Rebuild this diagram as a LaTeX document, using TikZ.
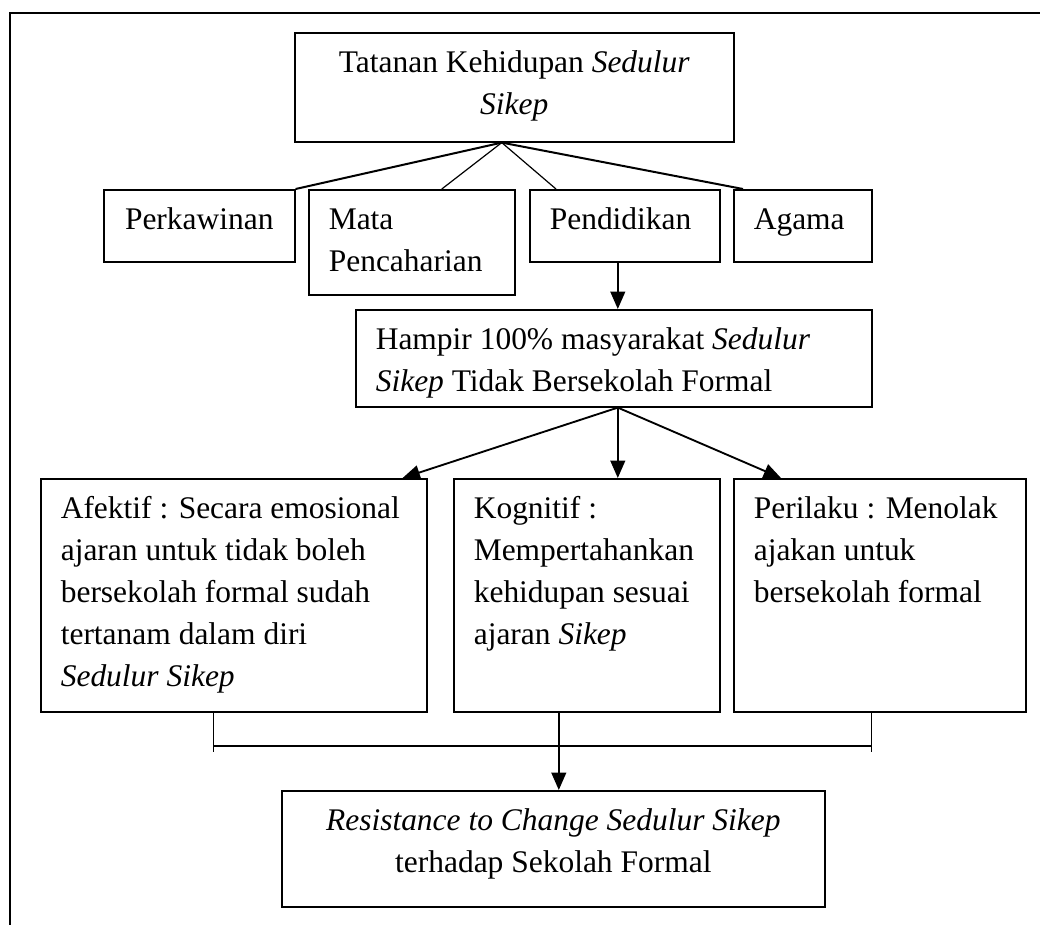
\documentclass[tikz,border=0pt]{standalone}
\usepackage{fontspec}
\setmainfont{Liberation Serif}
\usetikzlibrary{arrows.meta}

\newcommand{\isikotak}[3]{\parbox[c][#2][t]{#1}{\rule{0pt}{30pt}#3}}

\begin{document}
\begin{tikzpicture}[x=0.75pt,y=0.75pt,yscale=-1,xscale=1,
  kotak/.style={draw, line width=1.2pt, anchor=north west, inner xsep=15pt, inner ysep=0pt, font=\fontsize{23.6}{31.5}\selectfont},
  garis/.style={line width=1.5pt},
  garistipis/.style={line width=0.9pt},
  panah/.style={line width=1.4pt, -{Triangle[length=13pt,width=11pt]}}]
\useasboundingbox (0,0) rectangle (1040,925);

%Frame
\draw[line width=1.3pt] (10,925) -- (10,13) -- (1040,13);

%Shape: Rectangle
\node[kotak] (tatanan) at (294,32) {\isikotak{299.25pt}{81.75pt}{\centering Tatanan Kehidupan \textit{Sedulur}\\ \textit{Sikep}}};
%Shape: Rectangle
\node[kotak] (perkawinan) at (103,189) {\isikotak{113.25pt}{54pt}{\centering Perkawinan}};
%Shape: Rectangle
\node[kotak] (mata) at (308,189) {\isikotak{124.5pt}{78.75pt}{\raggedright Mata\\ Pencaharian}};
%Shape: Rectangle
\node[kotak] (pendidikan) at (529,189) {\isikotak{112.5pt}{54pt}{\raggedright Pendidikan}};
%Shape: Rectangle
\node[kotak] (agama) at (733,189) {\isikotak{73.5pt}{54pt}{\raggedright Agama}};
%Shape: Rectangle
\node[kotak] (hampir) at (355,309) {\isikotak{357pt}{72.75pt}{\raggedright Hampir 100\% masyarakat \textit{Sedulur}\\ \textit{Sikep} Tidak Bersekolah Formal}};
%Shape: Rectangle
\node[kotak] (afektif) at (40,478) {\isikotak{259.5pt}{174.75pt}{\raggedright Afektif : Secara emosional\\ ajaran untuk tidak boleh\\ bersekolah formal sudah\\ tertanam dalam diri\\ \textit{Sedulur Sikep}}};
%Shape: Rectangle
\node[kotak] (kognitif) at (453,478) {\isikotak{169.5pt}{174.75pt}{\raggedright Kognitif :\\ Mempertahankan\\ kehidupan sesuai\\ ajaran \textit{Sikep}}};
%Shape: Rectangle
\node[kotak] (perilaku) at (733,478) {\isikotak{189pt}{174.75pt}{\raggedright Perilaku : Menolak\\ ajakan untuk\\ bersekolah formal}};
%Shape: Rectangle
\node[kotak] (hasil) at (281,790) {\isikotak{377.25pt}{87pt}{\centering \textit{Resistance to Change Sedulur Sikep}\\ terhadap Sekolah Formal}};

%Straight Lines
\coordinate (cabang) at ([xshift=-9.4pt]tatanan.south);
\draw[garis] (cabang) -- (perkawinan.north east);
\draw[garistipis] (cabang) -- ([xshift=22.5pt]mata.north);
\draw[garistipis] (cabang) -- ([xshift=20.25pt]pendidikan.north west);
\draw[garis] (cabang) -- ([xshift=7.5pt]agama.north west);

%Arrows
\draw[panah] ([xshift=-5.25pt]pendidikan.south) -- ([xshift=3pt]hampir.north);
\coordinate (pecah) at ([xshift=3pt]hampir.south);
\draw[panah] (pecah) -- ([xshift=-18.75pt]afektif.north east);
\draw[panah] (pecah) -- ([xshift=23.25pt]kognitif.north);
\draw[panah] (pecah) -- ([xshift=36pt]perilaku.north west);

%Bracket
\coordinate (ka) at ([xshift=-15pt]afektif.south);
\coordinate (kc) at ([xshift=-6pt]perilaku.south);
\draw[garistipis] (ka) -- ++(0,39);
\draw[garistipis] (kc) -- ++(0,39);
\draw[line width=1.1pt] (ka |- 0,746) -- (kc |- 0,746);
\draw[panah] ([xshift=-21pt]kognitif.south) -- ([xshift=4.125pt]hasil.north);

\end{tikzpicture}
\end{document}
